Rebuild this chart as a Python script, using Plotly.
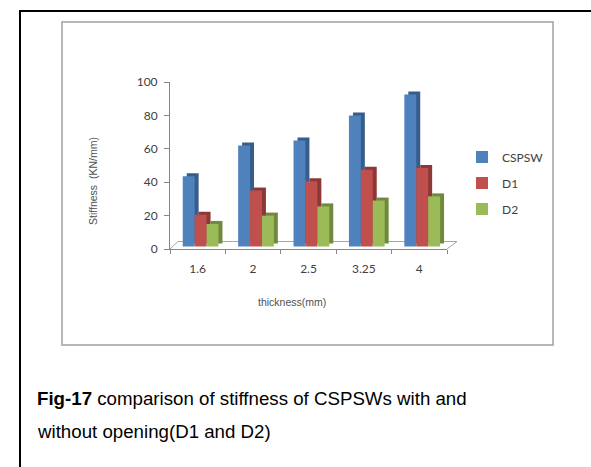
import plotly.graph_objects as go

categories = ["1.6", "2", "2.5", "3.25", "4"]
cspsw = [42, 60.5, 63.5, 78.5, 91]
d1 = [19, 33.5, 39, 46, 47]
d2 = [13.5, 18.5, 24, 27.5, 30]
series_names = ["CSPSW", "D1", "D2"]
y_ticks = [0, 20, 40, 60, 80, 100]

front_colors = ["#4f81bd", "#c0504d", "#9bbb59"]
side_colors = ["#385d8a", "#8c3836", "#71893f"]
offsets = [-0.27, -0.055, 0.16]
W = 0.215
BASE = 1.5
DX = 0.072
DY = 1.8

# plot area in pixels
L, R, T, B = 170, 447, 82, 249
FW, FH = 591, 467


def px2x(px):
    return (px - L) / (R - L)


def py2y(py):
    return (B - py) / (B - T)


fig = go.Figure()
for vals, name, fc, sc, off in zip([cspsw, d1, d2], series_names, front_colors, side_colors, offsets):
    fig.add_trace(go.Bar(x=categories, y=vals, base=BASE + DY, offset=off + DX, width=W,
                         marker=dict(color=sc, line_width=0), showlegend=False,
                         hoverinfo="skip"))
    fig.add_trace(go.Bar(x=categories, y=vals, base=BASE, offset=off, width=W, name=name,
                         marker=dict(color=fc, line_width=0), legendgroup=name))

axis_gray = "#868686"
floor_gray = "#a6a6a6"
shapes = [
    # floor
    dict(type="line", xref="x domain", yref="y", x0=0, y0=0, x1=px2x(178), y1=4.5,
         line=dict(color=floor_gray, width=1), layer="below"),
    dict(type="line", xref="x domain", yref="y", x0=px2x(178), y0=4.5, x1=px2x(457), y1=4.5,
         line=dict(color=floor_gray, width=1), layer="below"),
    dict(type="line", xref="x domain", yref="y", x0=1, y0=0, x1=px2x(457), y1=4.5,
         line=dict(color=floor_gray, width=1), layer="below"),
    # chart frame
    dict(type="rect", xref="paper", yref="paper", x0=px2x(62), y0=py2y(22), x1=px2x(553), y1=py2y(345),
         line=dict(color="#a0a0a0", width=1.5), layer="below"),
    # outer black border
    dict(type="line", xref="paper", yref="paper", x0=px2x(20), y0=py2y(11), x1=px2x(20), y1=py2y(475),
         line=dict(color="black", width=2)),
    dict(type="line", xref="paper", yref="paper", x0=px2x(19), y0=py2y(11), x1=px2x(600), y1=py2y(11),
         line=dict(color="black", width=2)),
]

annotations = [
    dict(text="thickness(mm)", xref="paper", yref="paper", x=px2x(292), y=py2y(302),
         showarrow=False, xanchor="center", yanchor="middle",
         font=dict(family="Liberation Sans", size=10.5, color="#505050")),
    dict(text="Stiffness  (KN/mm)", xref="paper", yref="paper", x=px2x(93), y=py2y(181),
         showarrow=False, xanchor="center", yanchor="middle", textangle=-90,
         font=dict(family="Liberation Sans", size=10.5, color="#505050")),
    dict(text="<b>Fig-17</b> comparison of stiffness of CSPSWs with and", xref="paper", yref="paper",
         x=px2x(35), y=py2y(398), showarrow=False, xanchor="left", yanchor="middle",
         font=dict(family="Liberation Sans", size=18.7, color="black")),
    dict(text="without opening(D1 and D2)", xref="paper", yref="paper",
         x=px2x(35), y=py2y(431), showarrow=False, xanchor="left", yanchor="middle",
         font=dict(family="Liberation Sans", size=18.7, color="black")),
]

fig.update_layout(
    width=FW, height=FH,
    margin=dict(l=L, r=FW - R, t=T, b=FH - B, pad=0),
    paper_bgcolor="white", plot_bgcolor="white",
    barmode="overlay",
    showlegend=True,
    legend=dict(x=px2x(462), y=py2y(183), xanchor="left", yanchor="middle",
                font=dict(family="Lato", size=12, color="#404040"),
                tracegroupgap=7, bgcolor="rgba(0,0,0,0)"),
    xaxis=dict(type="category", range=[-0.5, 4.5], tickson="boundaries", ticks="outside",
               ticklen=4, tickcolor=axis_gray, showline=True, linecolor=axis_gray,
               showgrid=False, zeroline=False, ticklabelstandoff=9,
               tickfont=dict(family="Lato", size=12, color="#404040")),
    yaxis=dict(range=[0, 100], tickvals=y_ticks, ticks="outside", ticklen=5,
               tickcolor=axis_gray, showline=True, linecolor=axis_gray, showgrid=False,
               zeroline=False, ticklabelstandoff=4,
               tickfont=dict(family="Lato", size=12, color="#404040")),
    shapes=shapes,
    annotations=annotations,
)

fig.write_html("out.html")
